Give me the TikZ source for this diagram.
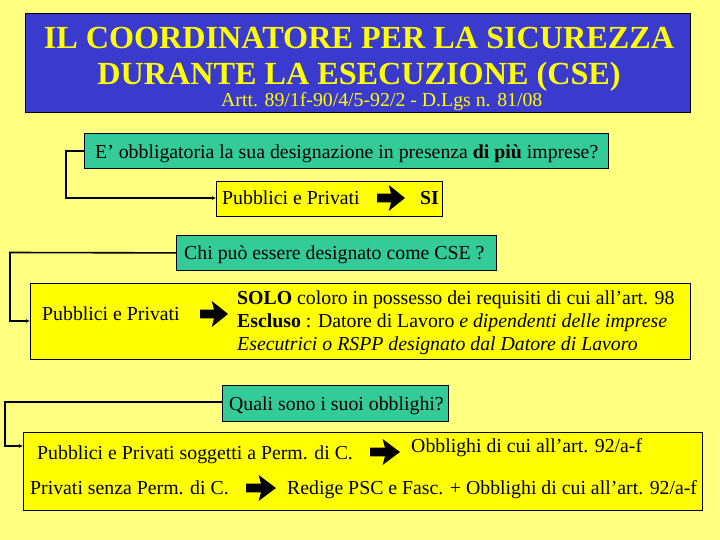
\documentclass[tikz,border=0pt]{standalone}
\usepackage{fontspec}
\setmainfont{Liberation Serif}
\usetikzlibrary{arrows.meta}
\definecolor{bgyellow}{RGB}{255,255,128}
\definecolor{titleblue}{RGB}{58,58,206}
\definecolor{teal}{RGB}{51,204,153}
\definecolor{boxyellow}{RGB}{255,255,0}
\definecolor{txtyellow}{RGB}{255,255,0}
\tikzset{
  tealbox/.style={draw=black, line width=0.8pt, fill=teal},
  ybox/.style={draw=black, line width=0.8pt, fill=boxyellow},
  conn/.style={draw=black, line width=1.6pt, -{Latex[length=4pt,width=4pt]}},
  txt/.style={anchor=base west, inner sep=0pt, font=\fontsize{19.8}{22}\selectfont},
  fatarrow/.pic={\fill[black] (0,-0.17) -- (0.5,-0.17) -- (0.42,-0.5) -- (1,0) -- (0.42,0.5) -- (0.5,0.17) -- (0,0.17) -- cycle;}
}
\begin{document}
\begin{tikzpicture}[x=1pt,y=-1pt]
\useasboundingbox (0,0) rectangle (720,540);
\fill[bgyellow] (0,0) rectangle (720,540);
% title
\node[draw=black, line width=0.8pt, fill=titleblue, minimum width=665pt, minimum height=99pt, anchor=north west, inner sep=0pt] (title) at (25,13) {};
\node[anchor=base, inner sep=0pt, text=txtyellow, font=\fontsize{32.2}{34}\selectfont\bfseries] (t1) at (359,49) {IL COORDINATORE PER LA SICUREZZA};
\node[anchor=base, inner sep=0pt, text=txtyellow, font=\fontsize{32.2}{34}\selectfont\bfseries] (t2) at (359,85) {DURANTE LA ESECUZIONE (CSE)};
\node[anchor=base west, inner sep=0pt, text=txtyellow, font=\fontsize{19.8}{22}\selectfont] (t3) at (221,107) {Artt. 89/1f-90/4/5-92/2 - D.Lgs n. 81/08};
% question 1
\node[tealbox, minimum width=524pt, minimum height=35pt, anchor=north west, inner sep=0pt] (q1) at (84,133) {};
\node[txt] (q1t) at (95,159) {E\char"0027{} obbligatoria la sua designazione in presenza \textbf{di più} imprese?};
\node[ybox, minimum width=226pt, minimum height=35pt, anchor=north west, inner sep=0pt] (a1) at (216,181) {};
\node[txt] (a1t) at (222,205) {Pubblici e Privati};
\pic[xscale=28,yscale=26] at (377,198) {fatarrow};
\node[txt, font=\fontsize{19.8}{22}\selectfont\bfseries] (a1s) at (420,205) {SI};
\draw[conn] (q1.west |- 0,151) -- (66,151) -- (66,198) -- (a1.west |- 0,198);
% question 2
\node[tealbox, minimum width=320pt, minimum height=35pt, anchor=north west, inner sep=0pt] (q2) at (176,235) {};
\node[txt] (q2t) at (184,259) {Chi può essere designato come CSE ?};
\node[ybox, minimum width=660pt, minimum height=76pt, anchor=north west, inner sep=0pt] (a2) at (30,283) {};
\node[txt] (a2l) at (42,320) {Pubblici e Privati};
\pic[xscale=28,yscale=26] at (200,314) {fatarrow};
\node[txt] (a2r1) at (237,304) {\textbf{SOLO} coloro in possesso dei requisiti di cui all’art. 98};
\node[txt] (a2r2) at (237,327) {\textbf{Escluso} : Datore di Lavoro \textit{e dipendenti delle imprese}};
\node[txt] (a2r3) at (237,350) {\textit{Esecutrici o RSPP designato dal Datore di Lavoro}};
\draw[conn] (q2.west) -- (10,252.5) -- (10,321) -- (a2.west |- 0,321);
% question 3
\node[tealbox, minimum width=226pt, minimum height=36pt, anchor=north west, inner sep=0pt] (q3) at (222,385) {};
\node[txt] (q3t) at (229,410) {Quali sono i suoi obblighi?};
\node[ybox, minimum width=679pt, minimum height=78pt, anchor=north west, inner sep=0pt] (a3) at (23,432) {};
\node[txt] (a3l1) at (37,459) {Pubblici e Privati soggetti a Perm. di C.};
\pic[xscale=30,yscale=26] at (370,452) {fatarrow};
\node[txt] (a3r1) at (411,452) {Obblighi di cui all’art. 92/a-f};
\node[txt] (a3l2) at (30,494) {Privati senza Perm. di C.};
\pic[xscale=30,yscale=26] at (246,488) {fatarrow};
\node[txt] (a3r2) at (287,494) {Redige PSC e Fasc. + Obblighi di cui all’art. 92/a-f};
\draw[conn] (q3.west |- 0,402) -- (5,402) -- (5,446) -- (a3.west |- 0,446);
\end{tikzpicture}
\end{document}
